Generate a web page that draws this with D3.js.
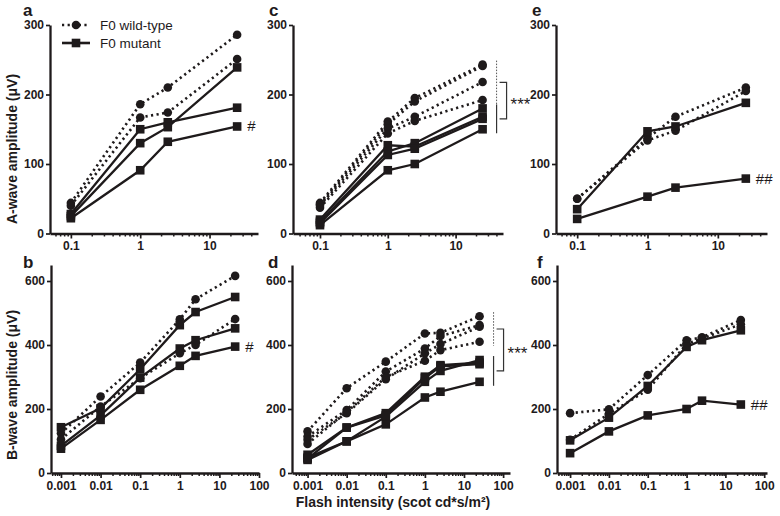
<!DOCTYPE html>
<html><head><meta charset="utf-8">
<script src="https://cdn.jsdelivr.net/npm/d3@7/dist/d3.min.js"></script>
<style>
body{margin:0;background:#fff;}
svg{display:block;font-family:"Liberation Sans",Arial,sans-serif;}
</style></head>
<body><svg id="c" width="780" height="516"></svg>
<script>
// ---------- data ----------
const xTop = [0.1, 1, 2.5, 25];
const xBottom = [0.001, 0.01, 0.1, 1, 2.5, 25];
const topTicks = [0.1, 1, 10];
const bottomTicks = [0.001, 0.01, 0.1, 1, 10, 100];
const topYTicks = [0, 100, 200, 300];
const bottomYTicks = [0, 200, 400, 600];

const aWT  = [[44,186,210,286],[40,167,174,251]];
const aMut = [[28,150,160,181],[25,130,153,239],[22,91,132,154]];
const bWT  = [[124,239,345,480,543,616],[105,208,296,374,400,481]];
const bMut = [[143,202,324,462,503,550],[85,180,298,389,415,452],[76,166,260,335,366,395]];
const cWT  = [[44,161,195,243],[42,157,190,241],[40,151,168,218],[37,144,162,192]];
const cMut = [[20,127,125,168],[17,118,130,180],[15,113,122,165],[12,91,100,150]];
const dWT  = [[130,265,348,436,438,490],[114,197,317,389,428,462],[104,187,293,374,403,457],[91,190,300,351,384,410]];
const dMut = [[57,142,187,301,337,345],[48,99,176,285,319,353],[45,142,180,297,333,340],[41,99,152,236,254,285]];
const eWT  = [[50,137,168,210],[50,134,148,205]];
const eMut = [[35,147,154,188],[21,53,66,79]];
const fWT  = [[187,199,306,415,424,478],[104,185,260,403,420,465]];
const fMut = [[102,173,272,394,415,446],[62,130,180,200,226,214]];

const legendLabels = ["F0 wild-type", "F0 mutant"];
const yTitles = ["A-wave amplitude (\u03bcV)", "B-wave amplitude (\u03bcV)"];
const xTitle = "Flash intensity (scot cd*s/m\u00b2)";

// ---------- layout ----------
const svg = d3.select("#c");
const INK = "#1e1a1b";
const R_C = 4.3, S_Q = 8.6;
const rows = [
  {y: d3.scaleLinear([0,300],[233.5,25]), ticks: topYTicks, xs: xTop, xt: topTicks},
  {y: d3.scaleLinear([0,650],[473,265]), ticks: bottomYTicks, xs: xBottom, xt: bottomTicks}
];
const panels = [
  {l:"a", row:0, wt:aWT, mut:aMut, r:[50,258], dom:[0.05,50], lx:23, ly:16},
  {l:"b", row:1, wt:bWT, mut:bMut, r:[51,259], dom:[0.00056,100], lx:23, ly:268},
  {l:"c", row:0, wt:cWT, mut:cMut, r:[293,503], dom:[0.04,50], lx:269, ly:16},
  {l:"d", row:1, wt:dWT, mut:dMut, r:[292,510], dom:[0.0004,150], lx:268, ly:268},
  {l:"e", row:0, wt:eWT, mut:eMut, r:[556,767], dom:[0.05,50], lx:532, ly:16},
  {l:"f", row:1, wt:fWT, mut:fMut, r:[557,767], dom:[0.00046,118], lx:537, ly:268}
];

function minorTicks(dom){
  const out=[];
  for(let e=-4;e<=2;e++){ for(let k=2;k<=9;k++){ const v=k*Math.pow(10,e); if(v>dom[0]*1.0001 && v<dom[1]*0.999) out.push(v);} }
  return out;
}
const fmt = v => v>=1 ? d3.format("d")(v) : String(+v.toPrecision(1));

panels.forEach(p=>{
  const R = rows[p.row];
  const x = d3.scaleLog(p.dom, p.r);
  const y = R.y;
  const g = svg.append("g");
  const base = y(0);

  const major = R.xt.filter(v=>v>=p.dom[0] && v<=p.dom[1]*1.001);
  const gx = g.append("g").attr("transform",`translate(0,${base})`)
    .call(d3.axisBottom(x).tickValues(major).tickFormat(fmt).tickSize(5).tickSizeOuter(0).tickPadding(3));
  gx.select(".domain").attr("stroke",INK).attr("stroke-width",2.3);
  gx.selectAll(".tick line").attr("stroke",INK).attr("stroke-width",1.7);
  gx.selectAll("text").attr("fill",INK).attr("font-size",12).attr("font-weight","bold");
  const gm = g.append("g").attr("transform",`translate(0,${base})`)
    .call(d3.axisBottom(x).tickValues(minorTicks(p.dom)).tickFormat("").tickSize(3).tickSizeOuter(0));
  gm.select(".domain").remove();
  gm.selectAll(".tick line").attr("stroke",INK).attr("stroke-width",1.5);

  const gy = g.append("g").attr("transform",`translate(${p.r[0]},0)`)
    .call(d3.axisLeft(y).tickValues(R.ticks).tickSize(4).tickSizeOuter(0).tickPadding(2));
  gy.select(".domain").attr("stroke",INK).attr("stroke-width",2.3);
  gy.selectAll(".tick line").attr("stroke",INK).attr("stroke-width",1.7);
  gy.selectAll("text").attr("fill",INK).attr("font-size",12).attr("font-weight","bold");

  g.append("text").attr("x",p.lx).attr("y",p.ly).text(p.l)
    .attr("font-size",17).attr("font-weight","bold").attr("fill",INK);

  const line = d3.line().x((d,i)=>x(R.xs[i])).y(d=>y(d));
  p.wt.forEach(s=>{
    g.append("path").attr("d",line(s)).attr("fill","none").attr("stroke",INK)
      .attr("stroke-width",2.6).attr("stroke-dasharray","2.2,3.4");
  });
  p.mut.forEach(s=>{
    g.append("path").attr("d",line(s)).attr("fill","none").attr("stroke",INK).attr("stroke-width",2.3);
  });
  p.wt.forEach(s=>{
    g.selectAll(null).data(s).join("circle").attr("cx",(d,i)=>x(R.xs[i])).attr("cy",d=>y(d)).attr("r",R_C).attr("fill",INK);
  });
  p.mut.forEach(s=>{
    g.selectAll(null).data(s).join("rect").attr("x",(d,i)=>x(R.xs[i])-S_Q/2).attr("y",d=>y(d)-S_Q/2)
      .attr("width",S_Q).attr("height",S_Q).attr("fill",INK);
  });
  p.x = x;
});

function lastPoint(p, s){ const R=rows[p.row]; return [p.x(R.xs[R.xs.length-1]), R.y(s[s.length-1])]; }
[[0, aMut[2], "#"],[1, bMut[2], "#"],[4, eMut[1], "##"],[5, fMut[1], "##"]].forEach(([i,s,t])=>{
  const p=panels[i]; const [px,py]=lastPoint(p,s);
  svg.append("text").attr("x",px+10).attr("y",py+5).text(t).attr("font-size",15).attr("fill",INK);
});

function bracket(p, wt, mut){
  const R=rows[p.row], y=R.y;
  const xl = p.x(R.xs[R.xs.length-1]) + 14;
  const wv = wt.map(s=>s[s.length-1]), mv = mut.map(s=>s[s.length-1]);
  const wMax=d3.max(wv), wMin=d3.min(wv), mMax=d3.max(mv), mMin=d3.min(mv);
  svg.append("line").attr("x1",xl).attr("x2",xl).attr("y1",y(wMax)-4).attr("y2",y(wMin)+4)
    .attr("stroke","#555").attr("stroke-width",1).attr("stroke-dasharray","1.5,1.5");
  svg.append("line").attr("x1",xl).attr("x2",xl).attr("y1",y(mMax)-4).attr("y2",y(mMin)+4)
    .attr("stroke","#333").attr("stroke-width",1.2);
  const wMid=(y(wMax)+y(wMin))/2, mMid=(y(mMax)+y(mMin))/2;
  const bx = xl+10;
  svg.append("path").attr("d",`M${xl+3},${wMid}H${bx}V${mMid}H${xl+3}`).attr("fill","none").attr("stroke","#333").attr("stroke-width",1.2);
  svg.append("text").attr("x",bx+4).attr("y",(wMid+mMid)/2+9).text("***").attr("font-size",17).attr("fill",INK);
}
bracket(panels[2], cWT, cMut);
bracket(panels[3], dWT, dMut);

const lg = svg.append("g");
[[0,25],[1,43]].forEach(([k,yy])=>{
  lg.append("line").attr("x1",62).attr("x2",90).attr("y1",yy).attr("y2",yy).attr("stroke",INK)
    .attr("stroke-width",2.6).attr("stroke-dasharray",k?null:"2.2,3.4");
  if(k) lg.append("rect").attr("x",76-S_Q/2).attr("y",yy-S_Q/2).attr("width",S_Q).attr("height",S_Q).attr("fill",INK);
  else lg.append("circle").attr("cx",76).attr("cy",yy).attr("r",R_C).attr("fill",INK);
  lg.append("text").attr("x",100).attr("y",yy+5).text(legendLabels[k]).attr("font-size",13.5).attr("fill",INK);
});

svg.append("text").attr("transform","translate(17,149) rotate(-90)").attr("text-anchor","middle")
  .text(yTitles[0]).attr("font-size",14).attr("font-weight","bold").attr("fill",INK);
svg.append("text").attr("transform","translate(17,385) rotate(-90)").attr("text-anchor","middle")
  .text(yTitles[1]).attr("font-size",14).attr("font-weight","bold").attr("fill",INK);
svg.append("text").attr("x",393).attr("y",507).attr("text-anchor","middle")
  .text(xTitle).attr("font-size",14).attr("font-weight","bold").attr("fill",INK);
</script></body></html>
